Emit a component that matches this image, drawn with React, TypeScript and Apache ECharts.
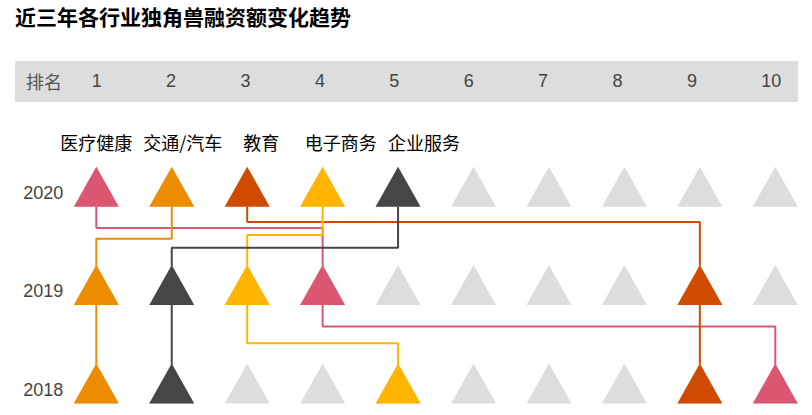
import React, { useEffect, useRef } from "react";
import * as echarts from "echarts";

// ---- data ----
const RANKS = [1, 2, 3, 4, 5, 6, 7, 8, 9, 10];
const YEARS = ["2020", "2019", "2018"];
const INDUSTRIES = ["医疗健康", "交通/汽车", "教育", "电子商务", "企业服务"];
const RANK_2020 = [1, 2, 3, 4, 5];
const RANK_2019 = [4, 1, 9, 3, 2];
const RANK_2018 = [10, 1, 9, 5, 2];

// ---- styles ----
const COLORS = ["#db5670", "#ec8c00", "#d04b02", "#ffb500", "#464646"];
const GRAY = "#dddddd";
const TURN_A = [0.42, 0.53, 0.36, 0.49, 0.62];
const TURN_B = [0.42, 0.5, 0.5, 0.59, 0.5];
const LABEL_DX = [0, 11, 14, 18, 26];
const CJK = "'Noto Sans CJK SC', sans-serif";
const LATIN = "'Liberation Sans', Arial, sans-serif";

export default function App() {
  const ref = useRef<HTMLDivElement>(null);
  useEffect(() => {
    if (!ref.current) return;
    const chart = echarts.init(ref.current, null, { renderer: "svg" });
    const rankRows = [RANK_2020, RANK_2019, RANK_2018];

    const lineSeries = INDUSTRIES.map((name, i) => {
      const r0 = RANK_2020[i], r1 = RANK_2019[i], r2 = RANK_2018[i];
      const a = TURN_A[i], b = 1 + TURN_B[i];
      return {
        type: "line",
        name: name + "-line",
        xAxisIndex: 0,
        yAxisIndex: 0,
        data: [[r0, 0], [r0, a], [r1, a], [r1, 1], [r1, b], [r2, b], [r2, 2]],
        showSymbol: false,
        symbol: "none",
        silent: true,
        z: 1,
        lineStyle: { color: COLORS[i], width: 2, opacity: 1 },
      };
    });

    const graySeries = {
      type: "scatter",
      xAxisIndex: 0,
      yAxisIndex: 0,
      symbol: "triangle",
      symbolSize: [45, 40],
      itemStyle: { color: GRAY, opacity: 1 },
      z: 2,
      silent: true,
      data: YEARS.flatMap((_, yi) => RANKS.map((r) => [r, yi])),
    };

    const colorSeries = INDUSTRIES.map((name, i) => ({
      type: "scatter",
      name,
      xAxisIndex: 0,
      yAxisIndex: 0,
      symbol: "triangle",
      symbolSize: [45, 40],
      itemStyle: { color: COLORS[i], opacity: 1 },
      z: 3,
      silent: true,
      data: rankRows.map((row, yi) =>
        yi === 0
          ? {
              value: [row[i], yi],
              label: {
                show: true,
                position: "inside",
                offset: [LABEL_DX[i], -45],
                formatter: name,
                color: "#000",
                fontSize: 18,
                fontFamily: CJK,
              },
            }
          : { value: [row[i], yi] }
      ),
    }));

    chart.setOption({
      animation: false,
      title: {
        text: "近三年各行业独角兽融资额变化趋势",
        left: 15,
        top: 5,
        padding: 0,
        textStyle: { fontSize: 21, fontWeight: "bold", color: "#000", fontFamily: CJK },
      },
      graphic: [
        {
          type: "rect",
          shape: { x: 15, y: 61, width: 783, height: 41 },
          style: { fill: GRAY },
          z: -10,
          silent: true,
        },
        {
          type: "text",
          x: 26,
          y: 81,
          style: {
            text: "排名",
            fill: "#555",
            fontSize: 18,
            fontFamily: CJK,
            verticalAlign: "middle",
            align: "left",
          },
          z: 10,
        },
      ],
      grid: [
        { left: 96.3, right: 36.7, top: 186.7, bottom: 31.5, outerBoundsMode: "none" },
        { left: 91.7, right: 50.7, top: 80.5, height: 1, outerBoundsMode: "none" },
      ],
      xAxis: [
        {
          type: "value",
          gridIndex: 0,
          min: 1,
          max: 10,
          interval: 1,
          axisLine: { show: false },
          axisTick: { show: false },
          axisLabel: { show: false },
          splitLine: { show: false },
        },
        {
          type: "value",
          gridIndex: 1,
          min: 1,
          max: 10,
          interval: 1,
          position: "top",
          axisLine: { show: false },
          axisTick: { show: false },
          splitLine: { show: false },
          axisLabel: {
            show: true,
            margin: 0,
            align: "left",
            verticalAlign: "middle",
            fontSize: 18,
            color: "#444",
            fontFamily: LATIN,
          },
          z: 10,
        },
      ],
      yAxis: [
        {
          type: "value",
          gridIndex: 0,
          inverse: true,
          min: 0,
          max: 2,
          interval: 1,
          axisLine: { show: false },
          axisTick: { show: false },
          splitLine: { show: false },
          axisLabel: {
            margin: 33,
            formatter: (v: number) => "{y|" + (YEARS[Math.round(v)] ?? "") + "}",
            rich: {
              y: {
                fontSize: 18,
                color: "#444",
                fontFamily: LATIN,
                padding: [12, 0, 0, 0],
              },
            },
          },
        },
        {
          type: "value",
          gridIndex: 1,
          show: false,
        },
      ],
      series: [...lineSeries, graySeries, ...colorSeries],
    });
    return () => chart.dispose();
  }, []);
  return (
    <div
      ref={ref}
      style={{ position: "absolute", left: 0, top: 0, width: 812, height: 415 }}
    />
  );
}
